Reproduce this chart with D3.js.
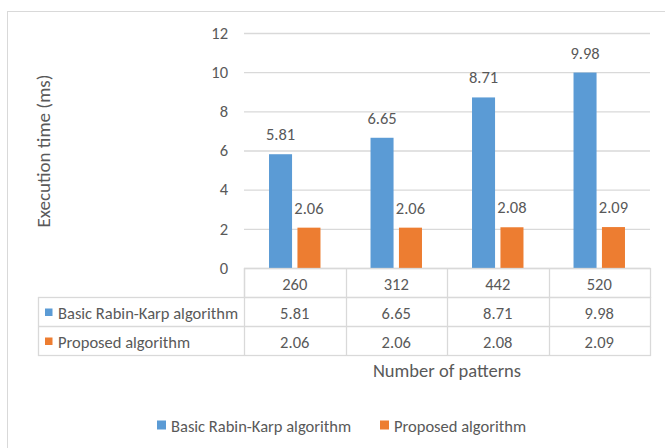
<!DOCTYPE html>
<html>
<head>
<meta charset="utf-8">
<script src="https://cdn.jsdelivr.net/npm/d3@7"></script>
<style>
  html, body { margin: 0; padding: 0; background: #fff; }
  svg { display: block; }
  text { font-family: Carlito, Lato, "Open Sans", sans-serif; fill: #595959; }
</style>
</head>
<body>
<script>
// Execution time (ms) for each number of patterns
const categories = ["260", "312", "442", "520"];
const seriesNames = ["Basic Rabin-Karp algorithm", "Proposed algorithm"];
const basicValues = [5.81, 6.65, 8.71, 9.98];
const proposedValues = [2.06, 2.06, 2.08, 2.09];
const yTicks = [0, 2, 4, 6, 8, 10, 12];
const colors = ["#5B9BD5", "#ED7D31"];

const seriesValues = [basicValues, proposedValues];

const FS = 16.5;
const W = 665, H = 448;
const svg = d3.select("body").append("svg").attr("width", W).attr("height", H);

// chart area frame
svg.append("rect")
  .attr("x", 7.5).attr("y", 11.5)
  .attr("width", 720).attr("height", 500)
  .attr("fill", "#fff").attr("stroke", "#D9D9D9");

const plot = { left: 244, right: 650, top: 33, bottom: 268 };

const x0 = d3.scaleBand().domain(categories).range([plot.left, plot.right]);
const x1 = d3.scaleBand().domain(seriesNames).range([0, x0.bandwidth()])
  .paddingInner(0.19).paddingOuter(0.88);
const y = d3.scaleLinear().domain([0, 12]).range([plot.bottom, plot.top]);

// gridlines and y tick labels
const yAxis = d3.axisLeft(y).tickValues(yTicks).tickSize(-(plot.right - plot.left)).tickPadding(16);
const gy = svg.append("g").attr("transform", `translate(${plot.left},0)`).call(yAxis);
gy.select(".domain").remove();
gy.selectAll(".tick line").attr("stroke", "#D9D9D9").attr("stroke-width", 1.3);
gy.selectAll(".tick text").attr("font-size", FS).attr("fill", "#595959")
  .style("font-family", "Carlito, Lato, 'Open Sans', sans-serif");

// y axis title
svg.append("text")
  .attr("transform", `translate(43,${151}) rotate(-90)`)
  .attr("text-anchor", "middle")
  .attr("dominant-baseline", "central")
  .attr("font-size", 19)
  .text("Execution time (ms)");

// bars
const groups = svg.append("g").selectAll("g")
  .data(categories)
  .join("g")
  .attr("transform", d => `translate(${x0(d)},0)`);

groups.selectAll("rect")
  .data((c, i) => seriesNames.map((s, j) => ({ s, j, v: seriesValues[j][i] })))
  .join("rect")
  .attr("x", d => x1(d.s))
  .attr("width", x1.bandwidth())
  .attr("y", d => y(d.v))
  .attr("height", d => y(0) - y(d.v))
  .attr("fill", d => colors[d.j]);

// value labels above bars
groups.selectAll("text.val")
  .data((c, i) => seriesNames.map((s, j) => ({ s, j, v: seriesValues[j][i] })))
  .join("text")
  .attr("class", "val")
  .attr("x", d => x1(d.s) + x1.bandwidth() / 2)
  .attr("y", d => y(d.v) - 20)
  .attr("text-anchor", "middle")
  .attr("dominant-baseline", "central")
  .attr("font-size", FS)
  .attr("fill", "#404040")
  .text(d => d.v.toFixed(2));

// data table below the plot
const rowH = 29;
const tableLeft = 38.5;
const rowTop = [plot.bottom, plot.bottom + rowH, plot.bottom + 2 * rowH];
const table = svg.append("g");
const lineColor = "#D9D9D9";

// header row (category labels)
table.append("rect")
  .attr("x", plot.left + 0.5).attr("y", rowTop[0] + 0.5)
  .attr("width", plot.right - plot.left).attr("height", rowH)
  .attr("fill", "none").attr("stroke", lineColor).attr("stroke-width", 1.3);
// series rows
table.append("rect")
  .attr("x", tableLeft).attr("y", rowTop[1] + 0.5)
  .attr("width", plot.right + 0.5 - tableLeft).attr("height", 2 * rowH)
  .attr("fill", "none").attr("stroke", lineColor).attr("stroke-width", 1.3);
table.append("line")
  .attr("x1", tableLeft).attr("x2", plot.right + 0.5)
  .attr("y1", rowTop[2] + 0.5).attr("y2", rowTop[2] + 0.5)
  .attr("stroke", lineColor).attr("stroke-width", 1.3);
// column separators
table.selectAll("line.col")
  .data(categories)
  .join("line")
  .attr("class", "col")
  .attr("x1", d => Math.round(x0(d)) + 0.5).attr("x2", d => Math.round(x0(d)) + 0.5)
  .attr("y1", rowTop[0]).attr("y2", rowTop[2] + rowH + 0.5)
  .attr("stroke", lineColor).attr("stroke-width", 1.3);

table.selectAll("text.cat")
  .data(categories)
  .join("text")
  .attr("class", "cat")
  .attr("x", d => x0(d) + x0.bandwidth() / 2)
  .attr("y", rowTop[0] + rowH / 2 + 1)
  .attr("text-anchor", "middle")
  .attr("dominant-baseline", "central")
  .attr("font-size", FS)
  .text(d => d);

seriesNames.forEach((s, j) => {
  const ry = rowTop[j + 1];
  table.append("rect")
    .attr("x", 45).attr("y", ry + rowH / 2 - 3)
    .attr("width", 7.5).attr("height", 7.5)
    .attr("fill", colors[j]);
  table.append("text")
    .attr("x", 58).attr("y", ry + rowH / 2 + 1)
    .attr("dominant-baseline", "central")
    .attr("font-size", FS)
    .text(s);
  table.selectAll(null)
    .data(categories)
    .join("text")
    .attr("x", d => x0(d) + x0.bandwidth() / 2)
    .attr("y", ry + rowH / 2 + 1)
    .attr("text-anchor", "middle")
    .attr("dominant-baseline", "central")
    .attr("font-size", FS)
    .text((d, i) => seriesValues[j][i].toFixed(2));
});

// x axis title
svg.append("text")
  .attr("x", (plot.left + plot.right) / 2)
  .attr("y", 370)
  .attr("text-anchor", "middle")
  .attr("dominant-baseline", "central")
  .attr("font-size", 18.5)
  .text("Number of patterns");

// legend
const legendX = [157, 380];
const legend = svg.append("g");
seriesNames.forEach((s, j) => {
  legend.append("rect")
    .attr("x", legendX[j]).attr("y", 420.5)
    .attr("width", 9).attr("height", 9)
    .attr("fill", colors[j]);
  legend.append("text")
    .attr("x", legendX[j] + 14).attr("y", 425.5)
    .attr("dominant-baseline", "central")
    .attr("font-size", FS)
    .text(s);
});
</script>
</body>
</html>
